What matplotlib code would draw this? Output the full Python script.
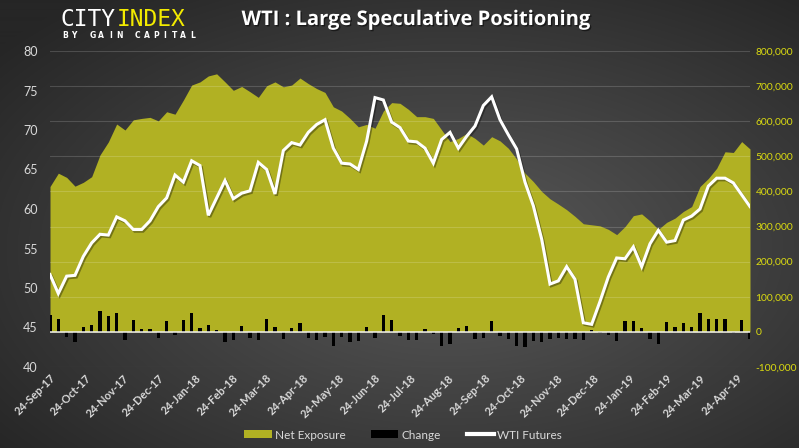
import numpy as np
import pandas as pd
import matplotlib
matplotlib.use('Agg')
import matplotlib.pyplot as plt
import matplotlib.dates as mdates
import matplotlib.patheffects as pe
from matplotlib.patches import Patch
from matplotlib.lines import Line2D
from matplotlib.ticker import FuncFormatter

# -------------------------------
# Data (weekly)
# -------------------------------
start_date = '2017-09-24'

# large speculators net exposure, thousands of contracts
net_exposure_k = [414, 452, 440, 415, 426, 442, 504, 541, 592, 575,
                  604, 608, 611, 601, 627, 620, 660, 703, 712, 729,
                  735, 712, 688, 699, 684, 668, 701, 712, 698, 703,
                  723, 707, 693, 682, 641, 629, 608, 584, 591, 580,
                  629, 653, 651, 634, 613, 613, 608, 575, 542, 551,
                  565, 551, 532, 556, 544, 523, 492, 452, 428, 400,
                  379, 364, 348, 329, 308, 305, 302, 292, 277, 300,
                  331, 336, 316, 292, 312, 324, 343, 357, 414, 437,
                  466, 513, 511, 542, 521]

# weekly change, thousands of contracts
change_k = [47, 38, -14, -30, 14, 20, 60, 44, 55, -22,
            35, 7, 7, -16, 32, -9, 35, 53, 12, 20,
            6, -29, -24, 16, -18, -22, 38, 14, -19, 10,
            24, -18, -24, -14, -40, -14, -28, -27, 14, -16,
            47, 35, -12, -22, -23, 7, -7, -40, -35, 12,
            17, -21, -16, 31, -11, -21, -40, -42, -26, -30,
            -21, -16, -21, -21, -24, 5, -4, -10, -26, 31,
            30, 10, -21, -35, 29, 14, 24, 14, 55, 38,
            36, 38, -4, 34, -21]

# WTI futures price
wti = [51.7, 49.3, 51.5, 51.6, 54.0, 55.7, 56.8, 56.7, 59.0, 58.5,
       57.4, 57.4, 58.5, 60.3, 61.4, 64.3, 63.4, 66.1, 65.5, 59.2,
       61.4, 63.6, 61.3, 62.0, 62.3, 65.9, 65.0, 61.9, 67.4, 68.4,
       68.1, 69.7, 70.7, 71.3, 67.7, 65.8, 65.7, 65.0, 68.6, 74.1,
       73.8, 71.0, 70.3, 68.6, 68.5, 67.7, 65.8, 68.8, 69.7, 67.7,
       69.2, 70.5, 73.1, 74.2, 71.3, 69.4, 67.6, 63.4, 60.4, 56.2,
       50.5, 50.9, 52.7, 51.1, 45.6, 45.4, 48.3, 51.4, 53.8, 53.7,
       55.2, 52.7, 55.6, 57.3, 55.8, 56.0, 58.6, 59.1, 60.0, 62.9,
       63.9, 63.9, 63.3, 61.8, 60.3]

title = 'WTI : Large Speculative Positioning'
legend_labels = ['Net Exposure', 'Change', 'WTI Futures']

dates = pd.date_range(start_date, periods=len(wti), freq='7D')
tick_dates = pd.date_range(start_date, periods=20, freq=pd.DateOffset(months=1))
net_exposure = np.array(net_exposure_k) * 1000
change = np.array(change_k) * 1000

# -------------------------------
# Colours
# -------------------------------
olive = '#b1b123'
yellow_txt = '#dcdc10'
light_txt = '#d9d9d9'

W, H = 799, 448
fig = plt.figure(figsize=(W / 100, H / 100), dpi=100)

# radial grey background
yy, xx = np.mgrid[0:H, 0:W]
r = np.sqrt(((xx - 450) / W) ** 2 + ((yy - 250) / H) ** 2)
shade = np.clip(90 - 72 * r, 38, 92) / 255.0
bg = fig.add_axes([0, 0, 1, 1])
bg.imshow(np.dstack([shade, shade, shade]), extent=[0, 1, 0, 1], aspect='auto')
bg.axis('off')
bg.set_zorder(-5)

rect = [50 / W, 81 / H, 700 / W, 316 / H]
ax = fig.add_axes(rect)      # WTI, left scale
ax2 = ax.twinx()             # positioning, right scale
ax.set_zorder(ax2.get_zorder() + 1)
ax.patch.set_visible(False)
ax2.patch.set_visible(False)

# -------------------------------
# Right axis: area + change bars
# -------------------------------
ax2.fill_between(dates, 0, net_exposure, color=olive, linewidth=0, zorder=2)
for v in range(-100000, 800001, 100000):
    if v == 0:
        continue
    ax2.axhline(v, color='white', alpha=0.16, lw=0.8, zorder=3)
ax2.bar(dates, change, width=2.6, color='black', zorder=4)
ax2.axhline(0, color='#f0f0f0', lw=1.1, zorder=5)
ax2.set_ylim(-100000, 800000)
ax2.set_yticks(range(-100000, 800001, 100000))
ax2.yaxis.set_major_formatter(FuncFormatter(lambda v, p: f'{v:,.0f}'))
ax2.tick_params(axis='y', length=0, pad=4, labelsize=7.4, labelcolor=yellow_txt)

# -------------------------------
# Left axis: WTI line
# -------------------------------
ax.plot(dates, wti, color='white', lw=2.2, solid_joinstyle='miter',
        path_effects=[pe.SimpleLineShadow(offset=(1, -1.2), shadow_color='black', alpha=0.35),
                      pe.Normal()])
ax.set_ylim(40, 80)
ax.set_yticks(range(40, 81, 5))
ax.tick_params(axis='y', length=0, pad=9, labelsize=9, labelcolor=light_txt)

ax.set_xlim(dates[0], dates[-1])
ax.set_xticks(tick_dates)
ax.xaxis.set_major_formatter(mdates.DateFormatter('%d-%b-%y'))
ax.tick_params(axis='x', length=0, pad=4, labelsize=8, labelcolor=light_txt)
for lbl in ax.get_xticklabels():
    lbl.set_rotation(45)
    lbl.set_ha('right')
    lbl.set_rotation_mode('anchor')
    lbl.set_fontweight('bold')
    lbl.set_family('Lato')
for lbl in ax.get_yticklabels() + ax2.get_yticklabels():
    lbl.set_family('Lato')

for a in (ax, ax2):
    for s in a.spines.values():
        s.set_visible(False)

# -------------------------------
# Title, logo, legend
# -------------------------------
fig.text(416 / W, 1 - 20 / H, title, ha='center', va='center', fontsize=14.5,
         fontweight='bold', color='white', family='Open Sans',
         path_effects=[pe.withSimplePatchShadow(offset=(1, -1), shadow_rgbFace='black', alpha=0.5)])

fig.text(61 / W, 1 - 19 / H, 'CITY', ha='left', va='center', fontsize=16.5,
         color='white', family='DejaVu Sans Mono')
fig.text(117 / W, 1 - 19 / H, 'INDEX', ha='left', va='center', fontsize=16.5,
         color='#f2ea00', family='DejaVu Sans Mono')
sub = 'BY GAIN CAPITAL'
for k, ch in enumerate(sub):
    if ch != ' ':
        fig.text((65 + k * 9.1) / W, 1 - 36 / H, ch, ha='center', va='center',
                 fontsize=5.5, fontweight='bold', color='white')

handles = [Patch(facecolor=olive, edgecolor='none'),
           Patch(facecolor='black', edgecolor='none'),
           Line2D([0], [0], color='white', lw=3)]
leg = fig.legend(handles, legend_labels, loc='center', bbox_to_anchor=(403 / W, 1 - 435 / H),
                 ncol=3, frameon=False, handlelength=2.3, handleheight=0.65,
                 handletextpad=0.25, columnspacing=2.2, prop={'family': 'Lato', 'size': 8.5})
for t in leg.get_texts():
    t.set_color(light_txt)

fig.savefig('out.png', dpi=100)
